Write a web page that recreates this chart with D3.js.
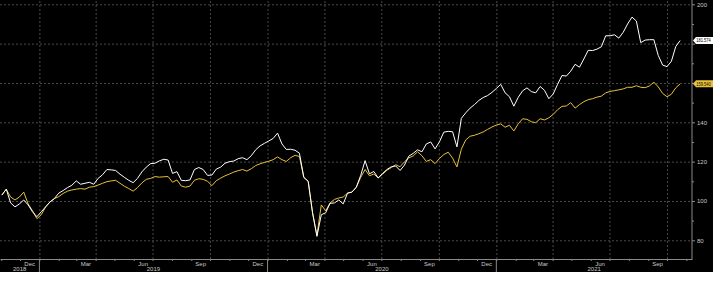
<!DOCTYPE html>
<html>
<head>
<meta charset="utf-8">
<script src="https://cdn.jsdelivr.net/npm/d3@7/dist/d3.min.js"></script>
<style>
	body { margin: 0; background: #fff; }
	svg { display: block; }
	.axis text { font-family: "Liberation Sans", Arial, sans-serif; font-size: 6px; fill: #c8c8c8; }
	.axis path, .axis line { stroke: #8a8a8a; }
</style>
</head>
<body>
<div id="chart-area"></div>
<script>

// weekly closes, first one on startDate
let startDate = "2018-11-02";

let whiteValues = [
	103, 106, 99, 97, 98.5, 100.5, 98, 94.5, 92, 94.5,
	97, 99.5, 101.2, 104, 105.3, 106.8, 108, 110.2, 108.5, 109,
	109.5, 108.5, 111.5, 113.3, 116, 115.8, 115.5, 113.6, 112, 110.5,
	109.3, 111.5, 114.8, 117.2, 119, 119.2, 120.4, 121.2, 120.8, 114,
	114.9, 110.5, 110.3, 110.7, 116, 117, 116, 113, 113.2, 116.2,
	117.2, 119.2, 120, 120.3, 121.5, 122, 121, 123, 126, 128,
	129.3, 130.5, 131.8, 134.5, 129, 126.2, 126.3, 125.8, 124.3, 112,
	110, 94, 82, 93, 94, 98.8, 99, 100.5, 98.5, 104,
	104.5, 107, 113, 120.5, 113.8, 115, 111.7, 114, 116, 117.4,
	117.8, 115.5, 118.2, 122.8, 124.2, 126, 125, 129, 130, 126.5,
	130.1, 135, 135.4, 135.2, 127.5, 142, 144.8, 147.2, 149, 151.1,
	152.6, 153.6, 155.2, 157.2, 159.3, 155, 153, 148.2, 152.7, 156,
	157.5, 155.6, 155, 158.2, 156.3, 152, 154.4, 159.3, 163.8, 163.5,
	166, 169.5, 168, 172.2, 176.6, 176.5, 177.2, 178.4, 184, 184,
	184.5, 182.8, 185.8, 190, 193.5, 191.5, 180.5, 181.8, 182, 182,
	174, 169.1, 168.3, 171, 178.5, 181.574
];

let yellowValues = [
	103, 106, 102, 100.5, 102, 104.5, 98.5, 95, 91, 93,
	97, 99.5, 101.2, 102.2, 103.8, 105, 105.6, 106, 106.3, 106,
	107, 107.3, 108.1, 109, 109.8, 110.2, 110.5, 109, 107.5, 106.3,
	105, 106.8, 109.2, 111, 111.5, 112.4, 112.1, 112.3, 112.4, 109.5,
	110.7, 107.6, 107, 107.6, 110.5, 111.3, 111, 110, 107.8, 110.3,
	111.6, 112.8, 113.7, 114.7, 115.4, 116, 115.2, 116.4, 118, 118.9,
	119.6, 120.2, 121, 122.4, 121, 120.1, 122, 123.2, 122.6, 112,
	110, 94, 82.5, 98, 95, 99, 100.8, 101.5, 102, 104,
	104.5, 107, 112, 116, 112.8, 113.7, 111.7, 113.6, 115.6, 117,
	118.4, 117.4, 119.9, 121.9, 122.9, 125, 123, 120.1, 121, 119,
	121.6, 123.6, 124.8, 121.8, 117.3, 126.3, 131, 132.9, 133.4, 134.2,
	135.1, 136.4, 137.6, 138.6, 139.2, 137.5, 138.5, 135.6, 139.2, 141.8,
	141.5, 140.3, 139.8, 141.8, 141.2, 142.3, 144, 146.4, 148.1, 148.3,
	150, 147.2, 149, 150.5, 151.5, 152, 152.8, 153.3, 155, 155.7,
	156.1, 156.5, 157, 157.8, 157.8, 158.6, 157.8, 157.6, 158.5, 160.4,
	158, 154.7, 153, 154.3, 157.5, 159.54
];

// axis labels
let yTicks = [80, 100, 120, 140, 160, 180, 200];
let yMinorTicks = [90, 110, 130, 150, 170, 190];
let monthLabels = ["Dec", "Mar", "Jun", "Sep"];
let yearLabels = ["2018", "2019", "2020", "2021"];
let lastLabels = ["181.574", "159.540"];

let parseDate = d3.timeParse("%Y-%m-%d");
let formatMonth = d3.timeFormat("%b");

let dates = whiteValues.map((d, i) => d3.timeDay.offset(parseDate(startDate), 7 * i));
let whiteData = whiteValues.map((v, i) => ({date: dates[i], value: v}));
let yellowData = yellowValues.map((v, i) => ({date: dates[i], value: v}));

let fullWidth = 713, fullHeight = 286;
let plotRight = 692, plotBottom = 259, bandBottom = 272;

let svg = d3.select("#chart-area").append("svg")
	.attr("width", fullWidth)
	.attr("height", fullHeight);

svg.append("rect")
	.attr("width", fullWidth)
	.attr("height", bandBottom)
	.attr("fill", "#000");

// Scales
let x = d3.scaleTime()
	.domain([parseDate("2018-10-30"), parseDate("2021-11-10")])
	.range([0, plotRight]);

let y = d3.scaleLinear()
	.domain([80, 200])
	.range([240.3, 4.3]);

// Grid
svg.append("g")
	.attr("class", "grid")
	.attr("transform", "translate(0," + plotBottom + ")")
	.call(d3.axisBottom(x).ticks(d3.timeMonth.every(3)).tickSize(-plotBottom).tickFormat(""))
	.call(g => g.select(".domain").remove())
	.selectAll("line")
	.attr("stroke", "#4a4a4a")
	.attr("stroke-dasharray", "2,2");

svg.append("g")
	.attr("class", "grid")
	.call(d3.axisRight(y).tickValues(yTicks).tickSize(plotRight).tickFormat(""))
	.call(g => g.select(".domain").remove())
	.selectAll("line")
	.attr("stroke", "#4a4a4a")
	.attr("stroke-dasharray", "2,2");

// Lines
let line = d3.line()
	.x(d => x(d.date))
	.y(d => y(d.value))
	.curve(d3.curveLinear);

svg.append("path")
	.datum(yellowData)
	.attr("d", line)
	.attr("fill", "none")
	.attr("stroke", "#e8c13a")
	.attr("stroke-width", 1);

svg.append("path")
	.datum(whiteData)
	.attr("d", line)
	.attr("fill", "none")
	.attr("stroke", "#ffffff")
	.attr("stroke-width", 1);

// Bottom axis: month ticks
svg.append("g")
	.attr("class", "axis x-axis")
	.attr("transform", "translate(0," + plotBottom + ")")
	.call(d3.axisBottom(x).ticks(d3.timeMonth.every(1)).tickSize(2).tickSizeOuter(0).tickFormat(""));

// month labels centred in their month
let labelMonths = x.ticks(d3.timeMonth.every(1))
	.filter(d => monthLabels.includes(formatMonth(d)));

svg.append("g")
	.attr("class", "axis")
	.selectAll("text")
	.data(labelMonths)
	.enter()
	.append("text")
	.attr("x", d => (x(d) + x(d3.timeMonth.offset(d, 1))) / 2)
	.attr("y", 265.5)
	.attr("text-anchor", "middle")
	.text(d => formatMonth(d));

// year separators and labels
let yearStarts = x.ticks(d3.timeYear.every(1));

svg.append("g")
	.attr("class", "axis")
	.selectAll("line")
	.data(yearStarts)
	.enter()
	.append("line")
	.attr("x1", d => x(d))
	.attr("x2", d => x(d))
	.attr("y1", plotBottom)
	.attr("y2", bandBottom);

let yearSpans = yearLabels.map(lbl => {
	let a = Math.max(0, x(parseDate(lbl + "-01-01")));
	let b = Math.min(plotRight, x(parseDate((+lbl + 1) + "-01-01")));
	return {label: lbl, mid: (a + b) / 2};
});

svg.append("g")
	.attr("class", "axis")
	.selectAll("text")
	.data(yearSpans)
	.enter()
	.append("text")
	.attr("x", d => d.mid)
	.attr("y", 271)
	.attr("text-anchor", "middle")
	.text(d => d.label);

// Last value tags (they cover the 160 and 180 tick labels, as in the original)
let tags = [
	{value: whiteValues[whiteValues.length - 1], text: lastLabels[0], fill: "#ffffff"},
	{value: yellowValues[yellowValues.length - 1], text: lastLabels[1], fill: "#e8c13a"}
];
let hidden = yTicks.filter(t => tags.some(g => Math.abs(y(t) - y(g.value)) < 6));

// Right axis
svg.append("g")
	.attr("class", "axis y-axis")
	.attr("transform", "translate(" + plotRight + ",0)")
	.call(d3.axisRight(y).tickValues(yTicks).tickSize(3).tickPadding(2).tickSizeOuter(0)
		.tickFormat(d => hidden.includes(d) ? "" : d))
	.call(g => g.select(".domain").attr("d", "M0,0V" + plotBottom));

svg.append("g")
	.attr("class", "axis")
	.attr("transform", "translate(" + plotRight + ",0)")
	.call(d3.axisRight(y).tickValues(yMinorTicks).tickSize(2).tickFormat(""))
	.call(g => g.select(".domain").remove());

let tag = svg.append("g")
	.selectAll("g")
	.data(tags)
	.enter()
	.append("g")
	.attr("transform", d => "translate(" + (plotRight + 1) + "," + y(d.value) + ")");

tag.append("path")
	.attr("d", "M0,0L3,-3.5H20V3.5H3Z")
	.attr("fill", d => d.fill);

tag.append("text")
	.attr("x", 3.2)
	.attr("y", 1.8)
	.attr("font-family", "Liberation Sans, Arial, sans-serif")
	.attr("font-size", "4.6px")
	.attr("textLength", 14.5)
	.attr("lengthAdjust", "spacingAndGlyphs")
	.attr("fill", "#000")
	.text(d => d.text);

</script>
</body>
</html>
